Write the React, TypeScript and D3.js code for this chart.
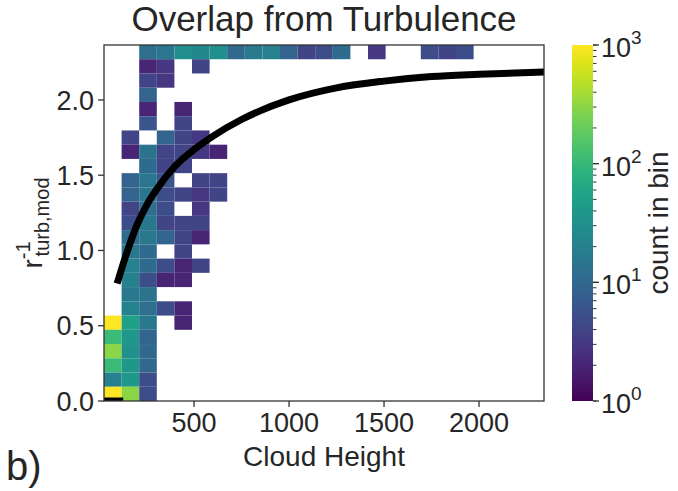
import React, { useEffect, useRef } from 'react'
import * as d3 from 'd3'

const title = 'Overlap from Turbulence'
const xLabel = 'Cloud Height'
const cbarLabel = 'count in bin'
const panelLabel = 'b)'

// histogram extent, 25 x 25 bins
const xExtent = [26, 2342]
const yExtent = [0, 2.365]
const nBins = 25

// bin counts, top row first, columns from the left (missing = empty)
const counts: number[][] = [
  [0, 0, 12, 15, 30, 25, 30, 10, 17, 20, 9, 4, 5, 11, 0, 3, 0, 0, 5, 4, 5],
  [0, 0, 2, 3, 0, 4],
  [0, 0, 4, 3],
  [0, 0, 9],
  [0, 0, 2, 0, 2],
  [0, 0, 6, 0, 4],
  [0, 4, 0, 9, 4, 3],
  [0, 2, 14, 4, 4, 3, 2],
  [0, 0, 11, 4, 4],
  [0, 9, 15, 6, 0, 4, 4],
  [0, 9, 15, 5, 4, 3, 4],
  [0, 4, 12, 5, 0, 3],
  [0, 5, 16, 4, 4, 4],
  [0, 11, 16, 9, 4, 2],
  [0, 16, 11, 0, 4],
  [0, 20, 11, 5, 2, 4],
  [0, 20, 5, 2, 2],
  [0, 16, 14],
  [0, 20, 12, 5, 2],
  [1000, 50, 16, 0, 2],
  [110, 40, 9],
  [300, 32, 10],
  [110, 40, 10],
  [20, 40, 5],
  [1000, 300, 5],
]

// model curve
const curveX = [95, 150, 200, 250, 300, 400, 500, 600, 750, 1000, 1250, 1500, 1750, 2000, 2346]
const curveY = [0.78, 1.0, 1.17, 1.3, 1.4, 1.56, 1.67, 1.76, 1.87, 2.0, 2.08, 2.125, 2.155, 2.17, 2.185]
// short black segment along the bottom
const baseX = [26, 127]
const baseY = [0, 0]

const xTicks = [500, 1000, 1500, 2000]
const yTicks = [0, 0.5, 1.0, 1.5, 2.0]
const cbarTicks = [1, 10, 100, 1000]
const cbarExp = ['0', '1', '2', '3']

const font = '"Liberation Sans", Arial, sans-serif'
const ink = '#262626'

const App: React.FC = () => {
  const ref = useRef<SVGSVGElement | null>(null)

  useEffect(() => {
    const width = 678
    const height = 491
    const m = { left: 104, top: 45, right: 544, bottom: 401 }

    const svg = d3.select(ref.current).attr('width', width).attr('height', height)
    svg.selectAll('*').remove()

    const x = d3.scaleLinear().domain(xExtent).range([m.left, m.right])
    const y = d3.scaleLinear().domain(yExtent).range([m.bottom, m.top])
    const color = d3.scaleSequentialLog(d3.interpolateViridis).domain([1, 1000])

    const dx = (xExtent[1] - xExtent[0]) / nBins
    const dy = (yExtent[1] - yExtent[0]) / nBins

    const cells = counts
      .flatMap((row, r) => row.map((c, i) => ({ i, j: nBins - 1 - r, c })))
      .filter((d) => d.c > 0)

    const defs = svg.append('defs')
    defs
      .append('clipPath')
      .attr('id', 'plot-clip')
      .append('rect')
      .attr('x', m.left)
      .attr('y', m.top)
      .attr('width', m.right - m.left)
      .attr('height', m.bottom - m.top)

    // cells
    svg
      .append('g')
      .selectAll('rect')
      .data(cells)
      .enter()
      .append('rect')
      .attr('x', (d) => x(xExtent[0] + d.i * dx))
      .attr('width', (d) => x(xExtent[0] + (d.i + 1) * dx) - x(xExtent[0] + d.i * dx))
      .attr('y', (d) => y(yExtent[0] + (d.j + 1) * dy))
      .attr('height', (d) => y(yExtent[0] + d.j * dy) - y(yExtent[0] + (d.j + 1) * dy))
      .attr('fill', (d) => color(d.c))

    // lines
    const line = d3
      .line<number>()
      .x((d) => x(d))
      .curve(d3.curveMonotoneX)
    const lines = svg.append('g').attr('clip-path', 'url(#plot-clip)')
    lines
      .append('path')
      .attr('d', line.y((_, i) => y(curveY[i]))(curveX))
      .attr('fill', 'none')
      .attr('stroke', '#000')
      .attr('stroke-width', 7)
    lines
      .append('path')
      .attr('d', line.y((_, i) => y(baseY[i]))(baseX))
      .attr('fill', 'none')
      .attr('stroke', '#000')
      .attr('stroke-width', 7)

    // frame
    svg
      .append('rect')
      .attr('x', m.left)
      .attr('y', m.top)
      .attr('width', m.right - m.left)
      .attr('height', m.bottom - m.top)
      .attr('fill', 'none')
      .attr('stroke', '#333')
      .attr('stroke-width', 1.3)

    // x axis
    const xAxis = svg.append('g').attr('font-family', font).attr('font-size', 27).attr('fill', ink)
    xTicks.forEach((t) => {
      xAxis
        .append('line')
        .attr('x1', x(t))
        .attr('x2', x(t))
        .attr('y1', m.bottom)
        .attr('y2', m.bottom + 6)
        .attr('stroke', '#333')
        .attr('stroke-width', 1.3)
      xAxis
        .append('text')
        .attr('x', x(t))
        .attr('y', m.bottom + 31)
        .attr('text-anchor', 'middle')
        .text(t)
    })

    // y axis
    const yAxis = svg.append('g').attr('font-family', font).attr('font-size', 27).attr('fill', ink)
    yTicks.forEach((t) => {
      yAxis
        .append('line')
        .attr('x1', m.left - 6)
        .attr('x2', m.left)
        .attr('y1', y(t))
        .attr('y2', y(t))
        .attr('stroke', '#333')
        .attr('stroke-width', 1.3)
      yAxis
        .append('text')
        .attr('x', m.left - 10)
        .attr('y', y(t))
        .attr('dy', '0.36em')
        .attr('text-anchor', 'end')
        .text(d3.format('.1f')(t))
    })

    // labels
    svg
      .append('text')
      .attr('x', (m.left + m.right) / 2)
      .attr('y', 31)
      .attr('text-anchor', 'middle')
      .attr('font-family', font)
      .attr('font-size', 35)
      .attr('fill', ink)
      .text(title)

    svg
      .append('text')
      .attr('x', (m.left + m.right) / 2)
      .attr('y', 466)
      .attr('text-anchor', 'middle')
      .attr('font-family', font)
      .attr('font-size', 28)
      .attr('fill', ink)
      .text(xLabel)

    svg
      .append('text')
      .attr('x', 6)
      .attr('y', 480)
      .attr('font-family', font)
      .attr('font-size', 40)
      .attr('fill', ink)
      .text(panelLabel)

    const yl = svg
      .append('text')
      .attr('transform', `translate(42,${(m.top + m.bottom) / 2}) rotate(-90)`)
      .attr('text-anchor', 'middle')
      .attr('font-family', font)
      .attr('font-size', 28)
      .attr('fill', ink)
    yl.append('tspan').text('r')
    yl.append('tspan').attr('font-size', 20).attr('dy', -12).text('-1')
    yl.append('tspan').attr('font-size', 20).attr('dy', 19).attr('dx', -15).text('turb,mod')

    // colorbar
    const cb = { x: 572, w: 21 }
    const c = d3.scaleLog().domain([1, 1000]).range([m.bottom, m.top])
    const grad = defs
      .append('linearGradient')
      .attr('id', 'cbar-grad')
      .attr('x1', 0)
      .attr('x2', 0)
      .attr('y1', 1)
      .attr('y2', 0)
    d3.range(0, 1.0001, 0.05).forEach((t) => {
      grad
        .append('stop')
        .attr('offset', t)
        .attr('stop-color', d3.interpolateViridis(t))
    })
    svg
      .append('rect')
      .attr('x', cb.x)
      .attr('y', m.top)
      .attr('width', cb.w)
      .attr('height', m.bottom - m.top)
      .attr('fill', 'url(#cbar-grad)')

    const cbAxis = svg.append('g').attr('font-family', font).attr('fill', ink)
    c.ticks().forEach((t) => {
      cbAxis
        .append('line')
        .attr('x1', cb.x + cb.w)
        .attr('x2', cb.x + cb.w + 3.5)
        .attr('y1', c(t))
        .attr('y2', c(t))
        .attr('stroke', '#333')
        .attr('stroke-width', 1)
    })
    cbarTicks.forEach((t, i) => {
      cbAxis
        .append('line')
        .attr('x1', cb.x + cb.w)
        .attr('x2', cb.x + cb.w + 6)
        .attr('y1', c(t))
        .attr('y2', c(t))
        .attr('stroke', '#333')
        .attr('stroke-width', 1.3)
      const tx = cbAxis
        .append('text')
        .attr('x', cb.x + cb.w + 8)
        .attr('y', c(t) + 12)
        .attr('font-size', 27)
      tx.append('tspan').text('10')
      tx.append('tspan').attr('font-size', 19).attr('dy', -13).text(cbarExp[i])
    })

    svg
      .append('text')
      .attr('transform', `translate(668,${(m.top + m.bottom) / 2}) rotate(-90)`)
      .attr('text-anchor', 'middle')
      .attr('font-family', font)
      .attr('font-size', 28)
      .attr('fill', ink)
      .text(cbarLabel)
  }, [])

  return <svg ref={ref} style={{ position: 'absolute', left: 0, top: 0 }}></svg>
}

export default App
